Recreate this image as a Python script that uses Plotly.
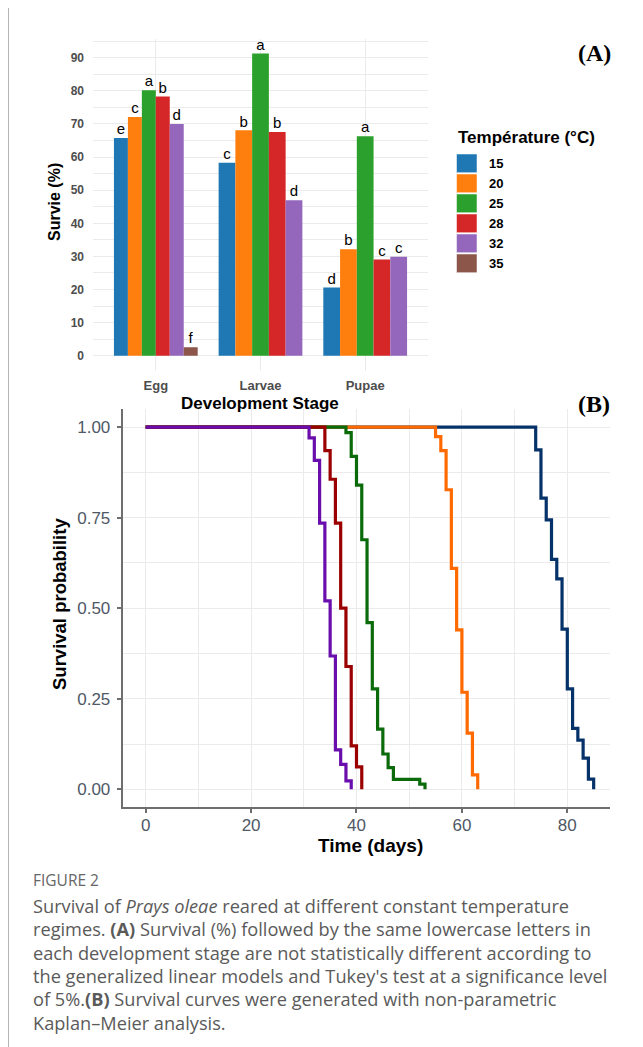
import plotly.graph_objects as go

# The page body has an 8 px margin, so the figure is placed at (8, 8) in the window.
OFF = 8
W, H = 643 - OFF, 1047 - OFF

# ---------------- Panel A data ----------------
stages = ["Egg", "Larvae", "Pupae"]
temps = ["15", "20", "25", "28", "32", "35"]
bar_colors = ["#1f77b4", "#ff7f0e", "#2ca02c", "#d62728", "#9467bd", "#8c564b"]
surv_egg = [65.8, 72.1, 80.2, 78.3, 70.0, 2.6]
surv_larvae = [58.3, 68.1, 91.3, 67.6, 47.0, None]
surv_pupae = [20.6, 32.2, 66.3, 29.1, 29.9, None]
let_egg = ["e", "c", "a", "b", "d", "f"]
let_larvae = ["c", "b", "a", "b", "d", None]
let_pupae = ["d", "b", "a", "c", "c", None]
y_ticks_a = [0, 10, 20, 30, 40, 50, 60, 70, 80, 90]

# ---------------- Panel B data (Kaplan-Meier) ----------------
km_labels = ["15", "20", "25", "28", "32"]
km_colors = ["#06326a", "#ff6a00", "#0b6b0b", "#9b0000", "#6a0dad"]
km_t_15 = [0, 74, 75, 76, 77, 78, 79, 80, 81, 82, 83, 84, 85]
km_s_15 = [1.0, 0.937, 0.804, 0.744, 0.635, 0.581, 0.442, 0.277, 0.168, 0.136, 0.086, 0.028, 0.0]
km_t_20 = [0, 55, 56, 57, 58, 59, 60, 61, 62, 63]
km_s_20 = [1.0, 0.974, 0.935, 0.827, 0.61, 0.44, 0.268, 0.155, 0.04, 0.0]
km_t_25 = [0, 38, 39, 40, 41, 42, 43, 44, 45, 46, 47, 52, 53]
km_s_25 = [1.0, 0.985, 0.919, 0.84, 0.689, 0.46, 0.277, 0.166, 0.0975, 0.06, 0.0276, 0.014, 0.0]
km_t_28 = [0, 34, 35, 36, 37, 38, 39, 40, 41]
km_s_28 = [1.0, 0.935, 0.856, 0.735, 0.50, 0.339, 0.12, 0.062, 0.0]
km_t_32 = [0, 31, 32, 33, 34, 35, 36, 37, 38, 39]
km_s_32 = [1.0, 0.97, 0.908, 0.735, 0.52, 0.368, 0.109, 0.069, 0.023, 0.0]
x_ticks_b = [0, 20, 40, 60, 80]
y_ticks_b = [0.0, 0.25, 0.5, 0.75, 1.0]


def px(x):
    """window x pixel -> paper fraction"""
    return (x - OFF) / W


def py(y):
    """window y pixel -> paper fraction"""
    return 1 - (y - OFF) / H


fig = go.Figure()

# ---- Panel A bars: ggplot-style dodge (bars share width among present groups)
stage_vals = [surv_egg, surv_larvae, surv_pupae]
stage_lets = [let_egg, let_larvae, let_pupae]
total_w = 0.8
positions = {}
for si, vals in enumerate(stage_vals):
    present = [ti for ti, v in enumerate(vals) if v is not None]
    n = len(present)
    bw = total_w / n
    for k, ti in enumerate(present):
        positions[(si, ti)] = (si + 1 + (k - (n - 1) / 2) * bw, bw)

let_x, let_y, let_t = [], [], []
for ti, t in enumerate(temps):
    xs, ys, ws = [], [], []
    for si, vals in enumerate(stage_vals):
        v = vals[ti]
        if v is None:
            continue
        cx, bw = positions[(si, ti)]
        xs.append(cx)
        ys.append(v)
        ws.append(bw)
        let_x.append(cx)
        let_y.append(v)
        let_t.append(stage_lets[si][ti])
    fig.add_trace(go.Bar(x=xs, y=ys, width=ws, marker_color=bar_colors[ti],
                         marker_line_width=0, name=t, showlegend=False,
                         xaxis="x", yaxis="y"))

fig.add_trace(go.Scatter(x=let_x, y=let_y, text=let_t, mode="text",
                         textposition="top center",
                         textfont=dict(size=15, color="black", family="Liberation Sans"),
                         showlegend=False, xaxis="x", yaxis="y", cliponaxis=False))

# ---- Panel B KM curves
km_t = [km_t_15, km_t_20, km_t_25, km_t_28, km_t_32]
km_s = [km_s_15, km_s_20, km_s_25, km_s_28, km_s_32]
for i, lab in enumerate(km_labels):
    fig.add_trace(go.Scatter(x=km_t[i], y=km_s[i], mode="lines",
                             line=dict(shape="hv", color=km_colors[i], width=3.2),
                             name=lab, showlegend=False, xaxis="x2", yaxis="y2"))

grid = "#ebebeb"
tick_gray = "#4d4d4d"

fig.update_layout(
    width=W, height=H,
    margin=dict(l=0, r=0, t=0, b=0),
    paper_bgcolor="white", plot_bgcolor="white",
    barmode="overlay",
    font=dict(family="Liberation Sans", color="black"),
    xaxis=dict(domain=[px(93), px(428)], range=[0.4, 3.6],
               tickvals=[1, 2, 3], ticktext=[f"<b>{s}</b>" for s in stages],
               showgrid=True, gridcolor=grid, gridwidth=1, zeroline=False,
               showline=False, ticks="", ticklabelstandoff=5,
               tickfont=dict(size=13, color=tick_gray, family="Liberation Sans"),
               anchor="y"),
    yaxis=dict(domain=[py(370.8), py(39.4)], range=[-4.55, 95.55],
               tickvals=y_ticks_a, ticktext=[f"<b>{v}</b>" for v in y_ticks_a],
               showgrid=True, gridcolor=grid, gridwidth=1, zeroline=False,
               minor=dict(dtick=5, tick0=0, showgrid=True, gridcolor=grid, gridwidth=0.6),
               showline=False, ticks="", ticklabelstandoff=8,
               tickfont=dict(size=12, color=tick_gray, family="Liberation Sans"),
               anchor="x"),
    xaxis2=dict(domain=[px(122.7), px(610)], range=[-4.36, 88.1],
                tickvals=x_ticks_b,
                showgrid=True, gridcolor=grid, gridwidth=1, zeroline=False,
                minor=dict(dtick=10, tick0=0, showgrid=True, gridcolor=grid, gridwidth=0.8),
                showline=True, linecolor="#6e6e6e", linewidth=2,
                ticks="outside", ticklen=4, tickcolor="#6e6e6e", tickwidth=1.5,
                ticklabelstandoff=-3,
                tickfont=dict(size=17, color="#4f5866", family="Liberation Sans"),
                anchor="y2"),
    yaxis2=dict(domain=[py(807.4), py(409)], range=[-0.05, 1.05],
                tickvals=y_ticks_b, ticktext=[f"{v:.2f}" for v in y_ticks_b],
                showgrid=True, gridcolor=grid, gridwidth=1, zeroline=False,
                minor=dict(dtick=0.125, tick0=0, showgrid=True, gridcolor=grid, gridwidth=0.8),
                showline=True, linecolor="#6e6e6e", linewidth=2,
                ticks="outside", ticklen=4, tickcolor="#6e6e6e", tickwidth=1.5,
                ticklabelstandoff=3,
                tickfont=dict(size=17, color="#4f5866", family="Liberation Sans"),
                anchor="x2"),
)

ann = []


def note(text, x, y, size, color="black", family="Liberation Sans", xanchor="center", angle=0):
    ann.append(dict(text=text, x=px(x), y=py(y), xref="paper", yref="paper",
                    xanchor=xanchor, yanchor="middle", showarrow=False, textangle=angle,
                    font=dict(size=size, color=color, family=family)))


# axis titles
note("<b>Survie (%)</b>", 55, 202, 16, angle=-90)
note("<b>Development Stage</b>", 260, 403, 17)
note("<b>Survival probability</b>", 59, 604, 18.5, angle=-90)
note("<b>Time (days)</b>", 370, 845, 19)
# panel tags
note("<b>(A)</b>", 594, 53, 24, family="Liberation Serif")
note("<b>(B)</b>", 594, 404, 24, family="Liberation Serif")
# manual legend (ggplot style)
note("<b>Température (°C)</b>", 456, 138, 17, xanchor="left")
shapes = []
for i, t in enumerate(temps):
    top = 154 + 20 * i
    shapes.append(dict(type="rect", xref="paper", yref="paper",
                       x0=px(456.5), x1=px(477), y0=py(top + 18.7), y1=py(top),
                       fillcolor=bar_colors[i], line=dict(width=0.5, color="white")))
    note(f"<b>{t}</b>", 487, top + 9.5, 13, xanchor="left")

# caption
cap_font = "Open Sans"
cap_col = "#5a5a5a"
note("FIGURE 2", 31, 880, 15.5, color="#666666", family=cap_font, xanchor="left")
cap_lines = [
    "Survival of <i>Prays oleae</i> reared at different constant temperature",
    "regimes. <b>(A)</b> Survival (%) followed by the same lowercase letters in",
    "each development stage are not statistically different according to",
    "the generalized linear models and Tukey's test at a significance level",
    "of 5%.<b>(B)</b> Survival curves were generated with non-parametric",
    "Kaplan\u2013Meier analysis.",
]
for i, line in enumerate(cap_lines):
    note(line, 31, 906 + 23.3 * i, 18.2, color=cap_col, family=cap_font, xanchor="left")

# page frame lines
shapes.append(dict(type="line", xref="paper", yref="paper", x0=px(8), x1=1, y0=py(6.5), y1=py(6.5),
                   line=dict(color="#b4b4b4", width=1)))
shapes.append(dict(type="line", xref="paper", yref="paper", x0=px(8.5), x1=px(8.5), y0=0, y1=py(6.5),
                   line=dict(color="#b4b4b4", width=1)))

fig.update_layout(annotations=ann, shapes=shapes)
fig.write_html("out.html")
